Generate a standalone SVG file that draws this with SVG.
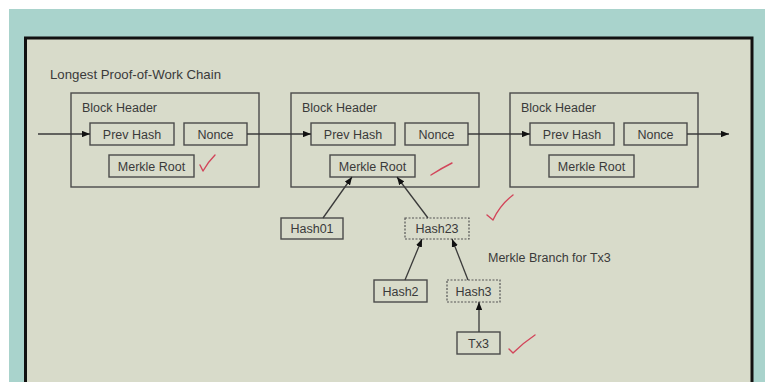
<svg xmlns="http://www.w3.org/2000/svg" width="765" height="382" viewBox="0 0 765 382">
  <style>
    .box { fill: #d8dbca; stroke: #4a4a4a; stroke-width: 1.4; }
    .dash { fill: #d8dbca; stroke: #555; stroke-width: 1.2; stroke-dasharray: 2 1.5; }
    .outer { fill: none; stroke: #4a4a4a; stroke-width: 1.4; }
    .lbl { font-family: "Liberation Sans", Arial, sans-serif; font-size: 12.5px; fill: #3a3a3a; }
    .mid { text-anchor: middle; }
    .edge { fill: none; stroke: #3a3a3a; stroke-width: 1.3; marker-end: url(#arrow); }
    .tick { fill: none; stroke: #d2455a; stroke-width: 1.4; stroke-linecap: round; stroke-linejoin: round; }
  </style>
  <defs>
    <marker id="arrow" viewBox="0 0 10 8" refX="10" refY="4" markerWidth="8" markerHeight="6.5" markerUnits="userSpaceOnUse" orient="auto">
      <path d="M0,0 L10,4 L0,8 z" fill="#111"/>
    </marker>
  </defs>

  <!-- backdrop -->
  <rect x="0" y="0" width="765" height="382" fill="#ffffff"/>
  <rect x="9" y="9" width="756" height="373" fill="#a9d3cc"/>
  <rect x="25.5" y="38" width="726.5" height="350" fill="#d8dbca" stroke="#111" stroke-width="3"/>

  <text class="lbl" x="50" y="78.5" style="font-size:13px" textLength="171" lengthAdjust="spacingAndGlyphs">Longest Proof-of-Work Chain</text>

  <!-- block 1 -->
  <g id="block1">
    <rect class="outer" x="71" y="93" width="188" height="94"/>
    <text class="lbl" x="82" y="112">Block Header</text>
    <rect class="box" x="90" y="123" width="84" height="22"/>
    <text class="lbl mid" x="132" y="138.5">Prev Hash</text>
    <rect class="box" x="184" y="123" width="63" height="22"/>
    <text class="lbl mid" x="215.5" y="138.5">Nonce</text>
    <rect class="box" x="109" y="155" width="85" height="22"/>
    <text class="lbl mid" x="151.5" y="170.5">Merkle Root</text>
  </g>

  <!-- block 2 -->
  <g id="block2">
    <rect class="outer" x="291" y="93" width="188" height="94"/>
    <text class="lbl" x="302" y="112">Block Header</text>
    <rect class="box" x="311" y="123" width="84" height="22"/>
    <text class="lbl mid" x="353" y="138.5">Prev Hash</text>
    <rect class="box" x="405" y="123" width="63" height="22"/>
    <text class="lbl mid" x="436.5" y="138.5">Nonce</text>
    <rect class="box" x="330" y="155" width="85" height="22"/>
    <text class="lbl mid" x="372.5" y="170.5">Merkle Root</text>
  </g>

  <!-- block 3 -->
  <g id="block3">
    <rect class="outer" x="510" y="93" width="188" height="94"/>
    <text class="lbl" x="521" y="112">Block Header</text>
    <rect class="box" x="530" y="123" width="84" height="22"/>
    <text class="lbl mid" x="572" y="138.5">Prev Hash</text>
    <rect class="box" x="624" y="123" width="63" height="22"/>
    <text class="lbl mid" x="655.5" y="138.5">Nonce</text>
    <rect class="box" x="549" y="155" width="85" height="22"/>
    <text class="lbl mid" x="591.5" y="170.5">Merkle Root</text>
  </g>

  <!-- merkle tree nodes -->
  <g id="hash01">
    <rect class="box" x="281" y="218" width="62" height="21"/>
    <text class="lbl mid" x="312" y="233">Hash01</text>
  </g>
  <g id="hash23">
    <rect class="dash" x="405" y="218" width="64" height="21"/>
    <text class="lbl mid" x="437" y="233">Hash23</text>
  </g>
  <g id="hash2">
    <rect class="box" x="374" y="280" width="53" height="22"/>
    <text class="lbl mid" x="400.5" y="295.5">Hash2</text>
  </g>
  <g id="hash3">
    <rect class="dash" x="447" y="280" width="53" height="22"/>
    <text class="lbl mid" x="473.5" y="295.5">Hash3</text>
  </g>
  <g id="tx3">
    <rect class="box" x="457" y="332" width="43" height="22"/>
    <text class="lbl mid" x="478.5" y="347.5">Tx3</text>
  </g>

  <text class="lbl" x="488" y="262">Merkle Branch for Tx3</text>

  <!-- connectors -->
  <g id="edges">
    <line class="edge" x1="38" y1="134" x2="90" y2="134"/>
    <line class="edge" x1="247" y1="134" x2="311" y2="134"/>
    <line class="edge" x1="468" y1="134" x2="530" y2="134"/>
    <line class="edge" x1="687" y1="134" x2="729" y2="134"/>
    <line class="edge" x1="323" y1="218" x2="352" y2="177"/>
    <line class="edge" x1="428" y1="218" x2="397" y2="177"/>
    <line class="edge" x1="405" y1="280" x2="422" y2="239"/>
    <line class="edge" x1="468" y1="280" x2="452" y2="239"/>
    <line class="edge" x1="479" y1="332" x2="479" y2="302"/>
  </g>

  <!-- hand-drawn marks -->
  <path class="tick" d="M200,165 L203,171 Q208,162 215,155"/>
  <path class="tick" d="M431,175 Q442,168 452,163"/>
  <path class="tick" d="M487,215 L493,220 Q500,205 513,195"/>
  <path class="tick" d="M509,349 L513,353 Q523,343 535,335"/>
</svg>
